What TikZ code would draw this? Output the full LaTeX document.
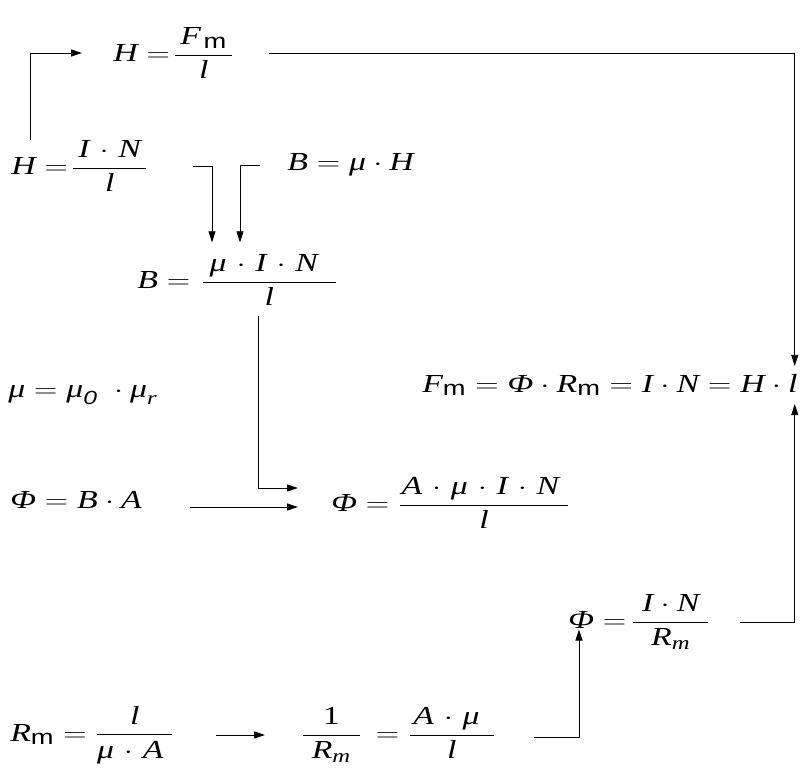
\documentclass[tikz,border=0pt]{standalone}
\usepackage{amsmath}
\usepackage{fontspec}
\setmainfont{Liberation Serif}
\setsansfont{Liberation Sans}
\usetikzlibrary{arrows.meta}

% italic quantity, subscripts and spacing helpers
\newcommand{\qv}[1]{\mbox{\itshape #1}}
\newcommand{\sm}{\mbox{\fontsize{21}{21}\selectfont\sffamily m}}
\newcommand{\im}[1]{\mbox{\fontsize{19}{19}\selectfont\itshape #1}}
\newcommand{\dt}{\mkern1.5mu\cdot\mkern1.5mu}

\begin{document}
\begin{tikzpicture}[
    x=1pt, y=-1pt,
    >={Triangle[length=11pt,width=7pt]},
    eqn/.style={anchor=west, inner sep=0pt, xscale=1.3, transform shape,
                font=\fontsize{26}{30}\selectfont},
    flow/.style={draw, ->, line width=0.8pt}
]
    \useasboundingbox (0,0) rectangle (803,774);

    % --- EQUATIONS ---
    \node[eqn] (hfm) at (113,53) {$\qv{H} = \mkern-3mu\dfrac{\mkern3mu\qv{F}_{\mkern2mu\sm}\mkern3mu}{\qv{l}}$};
    \node[eqn] (hin) at (11,166) {$\qv{H} = \mkern-3mu\dfrac{\mkern3mu\qv{I}\dt\qv{N}\mkern3mu}{\qv{l}}$};
    \node[eqn] (bmuh) at (287,165) {$\qv{B} = \qv{μ}\cdot\qv{H}$};
    \node[eqn] (bmuin) at (137,280) {$\qv{B} = \mkern1mu\dfrac{\mkern4mu\qv{μ}\dt\qv{I}\dt\qv{N}\mkern10mu}{\qv{l}}$};
    \node[eqn] (mu) at (8,395) {$\qv{μ} = \qv{μ}_{\im{\sffamily 0}}\mkern5mu\cdot\qv{μ}_{\im{r}}$};
    \node[eqn] (phiba) at (10,500) {$\qv{Φ} = \qv{B}\cdot\qv{A}$};
    \node[eqn] (phiamuin) at (331,503) {$\qv{Φ} = \dfrac{\mkern1mu\qv{A}\dt\qv{μ}\dt\qv{I}\dt\qv{N}\mkern5mu}{\qv{l}}$};
    \node[eqn] (fm) at (422,385) {$\qv{F}_{\sm} = \qv{Φ}\cdot\qv{R}_{\sm} = \qv{I}\cdot\qv{N} = \qv{H}\cdot\qv{l}$};
    \node[eqn] (phiinr) at (568,622) {$\qv{Φ} = \mkern-2mu\dfrac{\mkern5mu\qv{I}\cdot\qv{N}\mkern5mu}{\qv{R}_{\im{m}}}$};
    \node[eqn] (rm) at (10,735) {$\qv{R}_{\sm} = \dfrac{\qv{l}}{\qv{μ}\dt\qv{A}\mkern5mu}$};
    \node[eqn] (inv) at (301,735) {$\dfrac{\mbox{1}}{\mkern5mu\qv{R}_{\im{m}}\mkern5mu}\mkern3mu = \dfrac{\mkern2mu\qv{A}\dt\qv{μ}\mkern8mu}{\qv{l}}$};

    % --- CONNECTORS ---
    \coordinate (hinup) at (30,140);
    \draw[flow] (hinup) |- ([xshift=-31pt]hfm.west);
    \draw[flow] ([xshift=35pt]hfm.east) -| ([xshift=-3pt,yshift=8pt]fm.north east);
    \draw[flow] ([xshift=45pt]hin.east) -| ([xshift=75pt,yshift=12pt]bmuin.north west);
    \draw[flow] ([xshift=-27pt]bmuh.west) -| ([xshift=103pt,yshift=12pt]bmuin.north west);
    \draw[flow] ([xshift=121pt,yshift=-10pt]bmuin.south west) |- ([xshift=-33pt,yshift=15pt]phiamuin.west);
    \draw[flow] ([xshift=48pt,yshift=-7pt]phiba.east) -- ([xshift=-33pt,yshift=-4pt]phiamuin.west);
    \draw[flow] ([xshift=30pt]phiinr.east) -| ([xshift=-3pt,yshift=-8pt]fm.south east);
    \draw[flow] ([xshift=42pt]rm.east) -- ([xshift=-36pt]inv.west);
    \draw[flow] ([xshift=38pt,yshift=-2pt]inv.east) -| ([xshift=11pt,yshift=20pt]phiinr.south west);

\end{tikzpicture}
\end{document}
